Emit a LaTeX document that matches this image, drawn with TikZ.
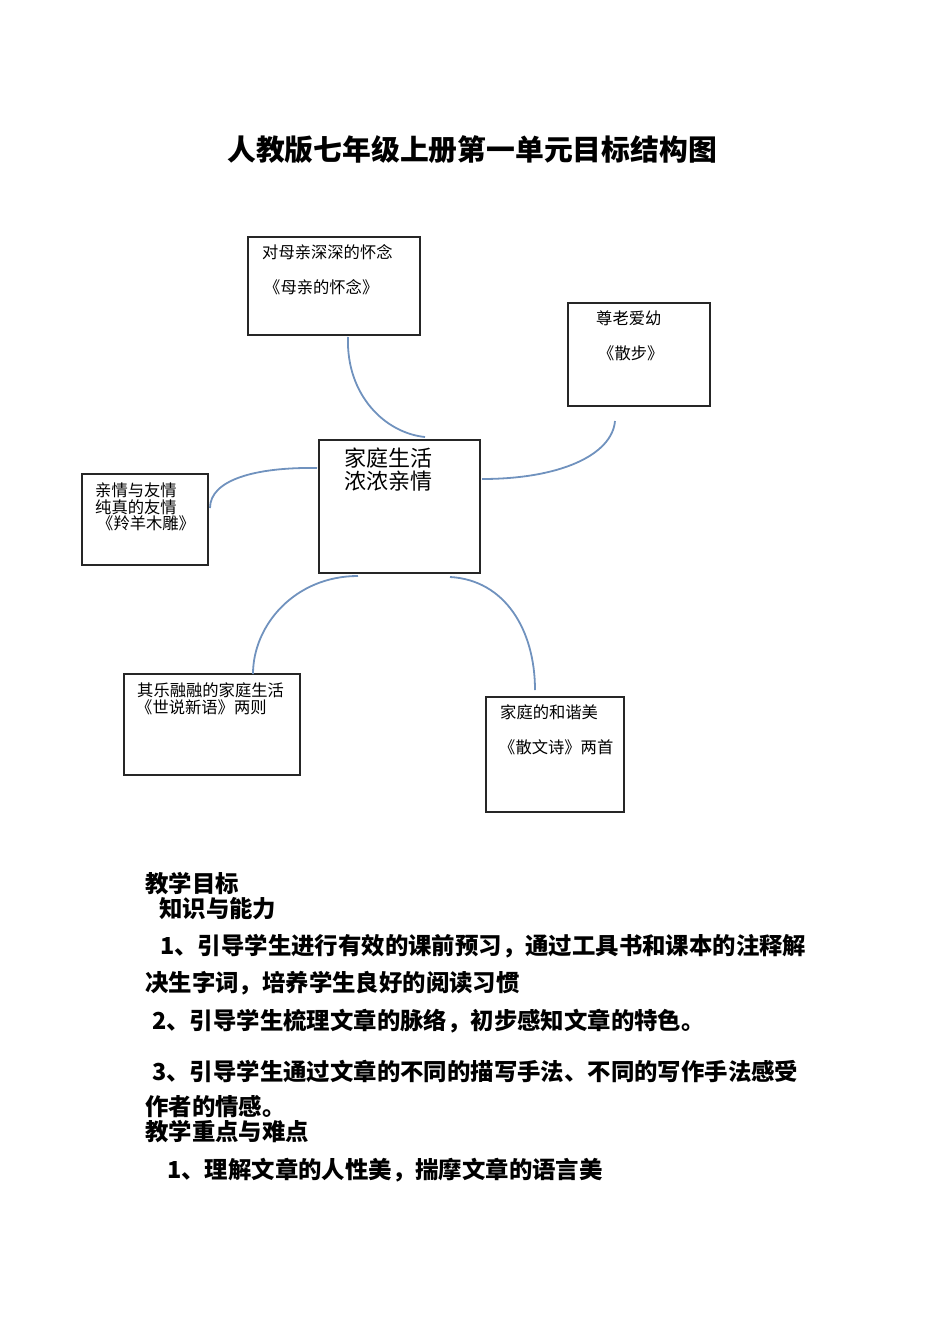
\documentclass[tikz,border=0pt]{standalone}
\usepackage{fontspec}
\newfontfamily\cjk{Noto Sans CJK SC}
\definecolor{linkblue}{RGB}{112,146,190}
\tikzset{
  box/.style={draw=black!85, line width=1.3pt, fill=none, inner sep=0pt},
  small/.style={anchor=west, inner sep=0pt, font=\cjk\fontsize{16.3}{18}\selectfont},
  big/.style={anchor=west, inner sep=0pt, font=\cjk\fontsize{22}{24}\selectfont},
  body/.style={anchor=west, inner sep=0pt, font=\cjk\bfseries\fontsize{23.4}{25}\selectfont},
  link/.style={draw=linkblue, line width=1.8pt}
}
\begin{document}
\begin{tikzpicture}[x=1pt,y=-1pt]
\useasboundingbox (0,0) rectangle (950,1344);
\node[anchor=center, inner sep=0pt, font=\cjk\bfseries\fontsize{28.8}{31}\selectfont] (title) at (472,150) {人教版七年级上册第一单元目标结构图};

% boxes
\node[box, minimum width=172pt, minimum height=98pt] (b1) at (334,286) {};
\node[box, minimum width=142pt, minimum height=103pt] (b2) at (639,354.5) {};
\node[box, minimum width=161pt, minimum height=133pt] (bc) at (399.5,506.5) {};
\node[box, minimum width=126pt, minimum height=91pt] (b3) at (145,519.5) {};
\node[box, minimum width=176pt, minimum height=101pt] (b4) at (212,724.5) {};
\node[box, minimum width=138pt, minimum height=115pt] (b5) at (555,754.5) {};

% box texts
\node[small] (t1a) at (262,252) {对母亲深深的怀念};
\node[small] (t1b) at (264,287) {《母亲的怀念》};
\node[small] (t2a) at (596,318) {尊老爱幼};
\node[small] (t2b) at (598,353) {《散步》};
\node[big] (tca) at (344,458) {家庭生活};
\node[big] (tcb) at (344,481) {浓浓亲情};
\node[small] (t3a) at (95,490) {亲情与友情};
\node[small] (t3b) at (95,507) {纯真的友情};
\node[small] (t3c) at (97,523) {《羚羊木雕》};
\node[small] (t4a) at (137,690) {其乐融融的家庭生活};
\node[small] (t4b) at (136,707) {《世说新语》两则};
\node[small] (t5a) at (500,712) {家庭的和谐美};
\node[small] (t5b) at (499,747) {《散文诗》两首};

% connectors
\coordinate (c1a) at (348,337);
\coordinate (c1b) at (425,437);
\coordinate (c2a) at (615,421);
\coordinate (c2b) at (482,479);
\coordinate (c3a) at (317,468);
\coordinate (c3b) at (210,508);
\coordinate (c4a) at (358,576);
\coordinate (c4b) at (253,674);
\coordinate (c5a) at (450,577);
\coordinate (c5b) at (535,690);
\draw[link] (c1a) .. controls (346,395) and (385,433) .. (c1b);
\draw[link] (c2a) .. controls (612,455) and (560,479) .. (c2b);
\draw[link] (c3a) .. controls (255,467) and (210,480) .. (c3b);
\draw[link] (c4a) .. controls (295,576) and (253,625) .. (c4b);
\draw[link] (c5a) .. controls (505,580) and (535,630) .. (c5b);

% body text
\node[body] (p1) at (145,884) {教学目标};
\node[body] (p2) at (159,909) {知识与能力};
\node[body] (p3) at (160,946) {1、引导学生进行有效的课前预习，通过工具书和课本的注释解};
\node[body] (p4) at (145,983) {决生字词，培养学生良好的阅读习惯};
\node[body] (p5) at (152,1021) {2、引导学生梳理文章的脉络，初步感知文章的特色。};
\node[body] (p6) at (152,1071) {3、引导学生通过文章的不同的描写手法、不同的写作手法感受};
\node[body] (p7) at (145,1107) {作者的情感。};
\node[body] (p8) at (145,1132) {教学重点与难点};
\node[body] (p9) at (167,1170) {1、理解文章的人性美，揣摩文章的语言美};
\end{tikzpicture}
\end{document}
